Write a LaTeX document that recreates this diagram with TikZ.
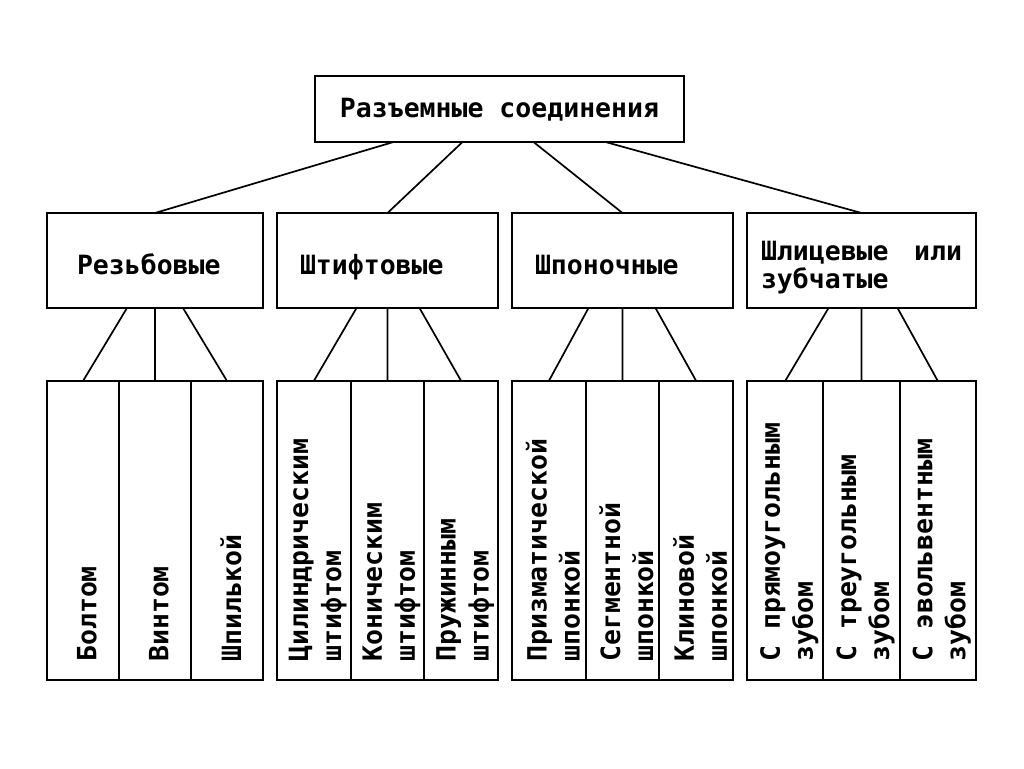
\documentclass[tikz,border=0pt]{standalone}
\usepackage{fontspec}
\setmainfont{DejaVu Sans Mono}
\usetikzlibrary{positioning}
\newcommand{\lblfont}{\fontsize{26.5pt}{33pt}\selectfont\bfseries}
% struts that set where a line sits inside its box
\newcommand{\rootstrut}{\rule[-7pt]{0pt}{30.4pt}}
\newcommand{\grpstrut}{\rule[-7pt]{0pt}{41.4pt}}
\newcommand{\grpdepth}{\rule[-7pt]{0pt}{7pt}}
\tikzset{
  rootbox/.style={draw, line width=2.4pt, minimum width=369pt, minimum height=66pt,
                  inner sep=0pt, outer sep=0pt, font=\lblfont},
  grpbox/.style={draw, line width=2.4pt, minimum height=95pt, inner sep=0pt,
                 outer sep=0pt, align=left, font=\lblfont},
  cellbox/.style={draw, line width=2.2pt, minimum height=299pt, inner sep=0pt,
                  outer sep=0pt},
  celltext/.style={rotate=90, anchor=west, align=left, inner sep=0pt, font=\lblfont},
  link/.style={line width=1.7pt},
}

\begin{document}
\begin{tikzpicture}[x=1pt, y=-1pt]
\fill[white] (0,0) rectangle (1024,768);
\useasboundingbox (0,0) rectangle (1024,768);

%% Root
\node[rootbox] (root) at (499.5,109) {\rootstrut Разъемные соединения};

%% Groups
\node[grpbox, minimum width=216pt, text width=156pt] (thread) at (155,260.5) {\grpstrut Резьбовые};
\node[grpbox, minimum width=221pt, text width=175pt, right=14pt of thread] (pin) {\grpstrut Штифтовые};
\node[grpbox, minimum width=221pt, text width=175pt, right=14pt of pin] (key) {\grpstrut Шпоночные};
\node[grpbox, minimum width=229pt, text width=201pt, right=14pt of key] (spline)
  {\grpstrut Шлицевые\hfill или\\[-5pt]\grpdepth зубчатые};

%% Threaded
\node[cellbox, minimum width=72pt, below right=73pt and 0pt of thread.south west] (bolt) {};
\node[cellbox, minimum width=72pt, right=0pt of bolt] (screw) {};
\node[cellbox, minimum width=72pt, right=0pt of screw] (stud) {};
\node[celltext] (boltT) at ([xshift=4pt, yshift=18pt]bolt.south) {Болтом};
\node[celltext] (screwT) at ([xshift=4pt, yshift=18pt]screw.south) {Винтом};
\node[celltext] (studT) at ([xshift=4pt, yshift=18pt]stud.south) {Шпилькой};

%% Pins
\node[cellbox, minimum width=73.67pt, below right=73pt and 0pt of pin.south west] (cylpin) {};
\node[cellbox, minimum width=73.67pt, right=0pt of cylpin] (conpin) {};
\node[cellbox, minimum width=73.67pt, right=0pt of conpin] (sprpin) {};
\node[celltext] (cylpinT) at ([xshift=4pt, yshift=18pt]cylpin.south) {Цилиндрическим\\штифтом};
\node[celltext] (conpinT) at ([xshift=4pt, yshift=18pt]conpin.south) {Коническим\\штифтом};
\node[celltext] (sprpinT) at ([xshift=4pt, yshift=18pt]sprpin.south) {Пружинным\\штифтом};

%% Keys
\node[cellbox, minimum width=73.67pt, below right=73pt and 0pt of key.south west] (prismkey) {};
\node[cellbox, minimum width=73.67pt, right=0pt of prismkey] (segkey) {};
\node[cellbox, minimum width=73.67pt, right=0pt of segkey] (wedgekey) {};
\node[celltext] (prismkeyT) at ([xshift=4pt, yshift=18pt]prismkey.south) {Призматической\\шпонкой};
\node[celltext] (segkeyT) at ([xshift=4pt, yshift=18pt]segkey.south) {Сегментной\\шпонкой};
\node[celltext] (wedgekeyT) at ([xshift=4pt, yshift=18pt]wedgekey.south) {Клиновой\\шпонкой};

%% Splines
\node[cellbox, minimum width=76.33pt, below right=73pt and 0pt of spline.south west] (rectsp) {};
\node[cellbox, minimum width=76.33pt, right=0pt of rectsp] (trisp) {};
\node[cellbox, minimum width=76.33pt, right=0pt of trisp] (invsp) {};
\node[celltext] (rectspT) at ([xshift=4pt, yshift=18pt]rectsp.south) {С прямоугольным\\зубом};
\node[celltext] (trispT) at ([xshift=4pt, yshift=18pt]trisp.south) {С треугольным\\зубом};
\node[celltext] (invspT) at ([xshift=4pt, yshift=18pt]invsp.south) {С эвольвентным\\зубом};

%% Links
\draw[link] ([xshift=-106pt]root.south) -- (thread.north);
\draw[link] ([xshift=-37pt]root.south) -- (pin.north);
\draw[link] ([xshift=34pt]root.south) -- (key.north);
\draw[link] ([xshift=106pt]root.south) -- (spline.north);

\draw[link] ([xshift=-28pt]thread.south) -- (bolt.north);
\draw[link] (thread.south) -- (screw.north);
\draw[link] ([xshift=28pt]thread.south) -- (stud.north);
\draw[link] ([xshift=-31pt]pin.south) -- (cylpin.north);
\draw[link] (pin.south) -- (conpin.north);
\draw[link] ([xshift=32pt]pin.south) -- (sprpin.north);
\draw[link] ([xshift=-34pt]key.south) -- (prismkey.north);
\draw[link] (key.south) -- (segkey.north);
\draw[link] ([xshift=33pt]key.south) -- (wedgekey.north);
\draw[link] ([xshift=-33pt]spline.south) -- (rectsp.north);
\draw[link] (spline.south) -- (trisp.north);
\draw[link] ([xshift=36pt]spline.south) -- (invsp.north);
\end{tikzpicture}
\end{document}
